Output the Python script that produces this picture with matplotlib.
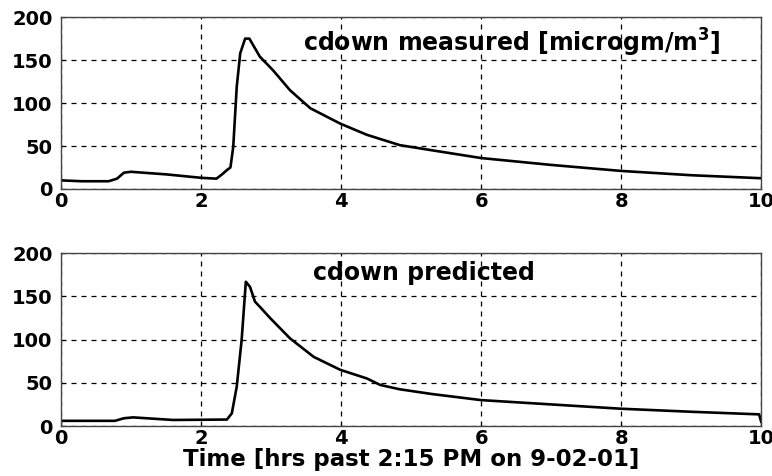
import matplotlib
matplotlib.use('Agg')
import matplotlib.pyplot as plt

# measured concentration
t_meas = [0, 0.3, 0.68, 0.8, 0.9, 1.0, 1.5, 2.0, 2.22, 2.3, 2.37, 2.42, 2.46, 2.51,
          2.56, 2.63, 2.69, 2.84, 3.03, 3.27, 3.56, 3.99, 4.37, 4.84, 5.3,
          6.0, 7.0, 8.0, 9.0, 10.0]
c_meas = [10, 9, 9, 12, 19, 20, 17, 13, 12, 17, 22, 25, 49, 119,
          158, 175, 175, 154, 138, 115, 94, 76, 63, 51, 45,
          36, 28, 21, 16, 12.5]

# predicted concentration
t_pred = [0, 0.77, 0.9, 1.03, 1.6, 2.37, 2.44, 2.51, 2.58, 2.64, 2.70, 2.77,
          2.84, 2.99, 3.27, 3.61, 3.99, 4.37, 4.56, 4.84, 5.3, 6.0, 7.0, 8.0,
          9.0, 9.97, 10.0]
c_pred = [6, 6, 9, 10, 7, 7.5, 14.7, 45.6, 99.6, 167, 161, 144,
          138, 124.7, 101.5, 80, 65, 55, 47.5, 42.5, 37, 30, 25, 20,
          16.5, 13.5, 5]

x_ticks = [0, 2, 4, 6, 8, 10]
y_ticks = [0, 50, 100, 150, 200]

plt.rcParams['font.family'] = 'DejaVu Sans'
plt.rcParams['font.weight'] = 'bold'


def style_axes(ax):
    ax.set_xlim(0, 10)
    ax.set_ylim(0, 200)
    ax.set_xticks(x_ticks)
    ax.set_yticks(y_ticks)
    ax.tick_params(direction='in', length=3, labelsize=14)
    ax.tick_params(axis='y', pad=6)
    ax.tick_params(axis='x', pad=2)
    for lab in ax.get_xticklabels() + ax.get_yticklabels():
        lab.set_fontweight('bold')
    ax.grid(True, color='black', linestyle=(0, (4, 4)), linewidth=0.9)
    for sp in ax.spines.values():
        sp.set_color('#444444')
        sp.set_linewidth(1.0)


fig = plt.figure(figsize=(7.72, 4.76), dpi=100)
ax1 = fig.add_axes([0.079, 0.603, 0.907, 0.361])
ax2 = fig.add_axes([0.079, 0.105, 0.907, 0.363])

ax1.plot(t_meas, c_meas, color='black', linewidth=1.9)
style_axes(ax1)
ax1.text(3.46, 170, 'cdown measured [microgm/m$^\\mathbf{3}$]', fontsize=17,
         fontweight='bold', va='center', ha='left')

ax2.plot(t_pred, c_pred, color='black', linewidth=1.9)
style_axes(ax2)
ax2.text(5.18, 177, 'cdown predicted', fontsize=17, fontweight='bold',
         va='center', ha='center')
ax2.set_xlabel('Time [hrs past 2:15 PM on 9-02-01]', fontsize=16.5,
               fontweight='bold', labelpad=0)

fig.savefig('out.png', dpi=100)
